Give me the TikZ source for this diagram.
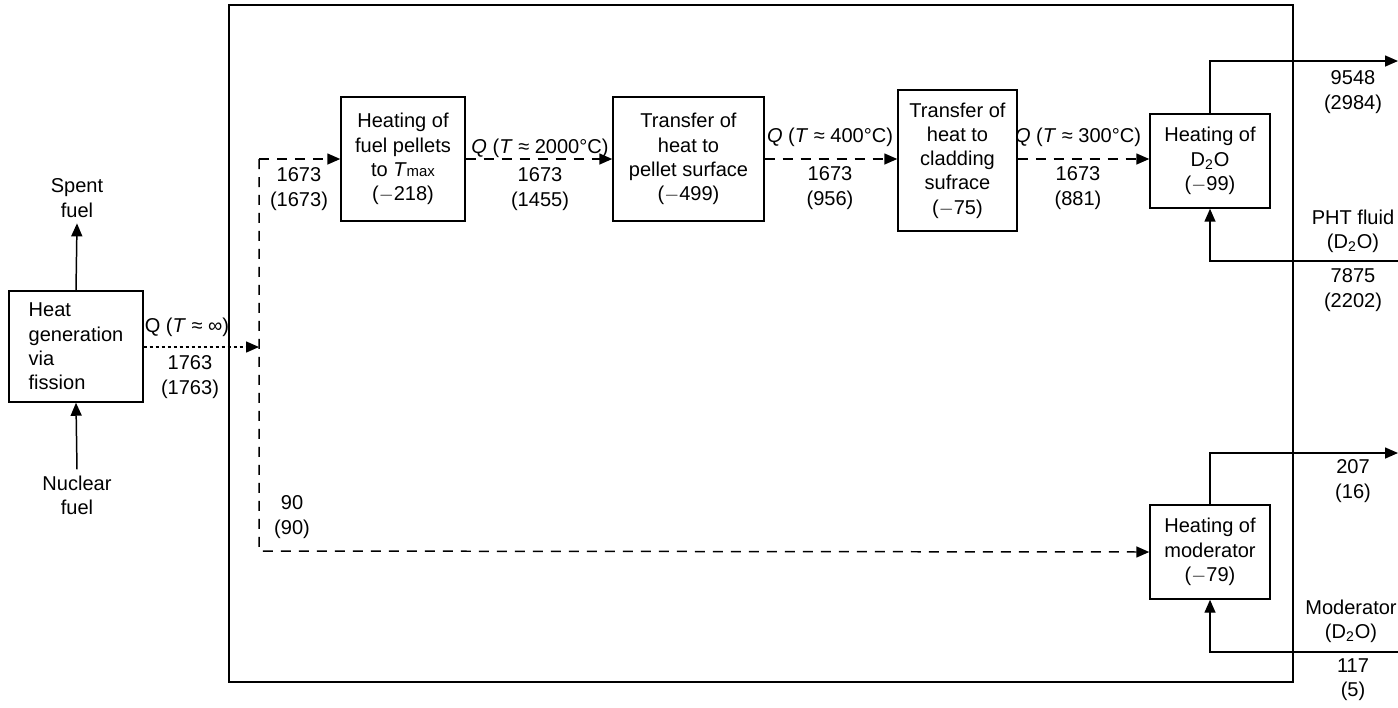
\documentclass[tikz,border=0pt]{standalone}
\usepackage{fontspec}
\setmainfont{Liberation Sans}
\usepackage{tikz}
\usetikzlibrary{arrows.meta, positioning}
\newcommand{\dtwo}{D\textsubscript{2}O}
\newcommand{\tmax}{\textit{T}{\fontsize{8.5}{10}\selectfont max}}

\begin{document}
\begin{tikzpicture}[x=0.02cm, y=-0.02cm,
    font=\fontsize{11.4}{13.8}\selectfont,
    stage/.style={rectangle, draw, line width=0.85pt, align=center, inner sep=2pt},
    lbl/.style={align=center, inner sep=0pt},
    arr/.style={-{Triangle[length=2.6mm, width=2.2mm]}, line width=0.85pt},
    flow/.style={arr, dash pattern=on 2mm off 1.6mm},
    heat/.style={arr, dash pattern=on 0.6mm off 0.6mm}
]
\useasboundingbox (0,0) rectangle (1398,707);
\draw[line width=0.85pt] (229,5) rectangle (1293,682);

\node[stage, align=left, minimum width=2.68cm, minimum height=2.22cm] (fission) at (76,346.5) {Heat\\generation\\via\\fission};
\node[lbl, inner sep=3.3pt] (spent) at (77,198) {Spent\\fuel};
\node[lbl, inner sep=3.3pt] (nuclear) at (77,495) {Nuclear\\fuel};

\node[stage, minimum width=2.48cm, minimum height=2.48cm] (pellet) at (403,159) {Heating of\\fuel pellets\\to \tmax\\($-$218)};
\node[stage, minimum width=3.02cm, minimum height=2.48cm] (surface) at (688.5,159) {Transfer of\\heat to\\pellet surface\\($-$499)};
\node[stage, minimum width=2.38cm, minimum height=2.82cm] (clad) at (957.5,160.5) {Transfer of\\heat to\\cladding\\sufrace\\($-$75)};
\node[stage, minimum width=2.4cm, minimum height=1.88cm] (coolant) at (1210,161) {Heating of\\\dtwo\\($-$99)};
\node[stage, minimum width=2.4cm, minimum height=1.88cm] (moder) at (1210,552) {Heating of\\moderator\\($-$79)};

\coordinate (jtop) at (259,159);
\coordinate (jmid) at (259,347);
\coordinate (jbot) at (259,551);
\coordinate (phtout) at (1398,61);
\coordinate (phtin) at (1398,261);
\coordinate (modout) at (1398,453);
\coordinate (modin) at (1398,652);

% fission source
\draw[arr] (fission.north) -- (spent.south);
\draw[arr] (nuclear.north) -- (fission.south);
\draw[heat] (fission.east |- jmid) -- (jmid);
\node[lbl] (qinf) at (187,327) {Q (\textit{T} ≈ ∞)};
\node[lbl] (n1763) at (190,377) {1763\\(1763)};

% fuel channel chain
\draw[flow] (jtop) -- (jbot) -- (moder.west);
\draw[flow] (jtop) -- (pellet.west);
\draw[flow] (pellet.east) -- (surface.west);
\draw[flow] (surface.east) -- (clad.west |- surface.east);
\draw[flow] (clad.east |- surface.east) -- (coolant.west |- surface.east);
\node[lbl] (n1673) at (299,189) {1673\\(1673)};
\node[lbl] (n90) at (292,517) {90\\(90)};
\node[lbl] (q2000) at (540,148) {\textit{Q} (\textit{T} ≈ 2000°C)};
\node[lbl] (n1455) at (540,189) {1673\\(1455)};
\node[lbl] (q400) at (830,137) {\textit{Q} (\textit{T} ≈ 400°C)};
\node[lbl] (n956) at (830,188) {1673\\(956)};
\node[lbl] (q300) at (1078,137) {\textit{Q} (\textit{T} ≈ 300°C)};
\node[lbl] (n881) at (1078,188) {1673\\(881)};

% heat transport and moderator loops
\draw[arr] (coolant.north) |- (phtout);
\draw[arr] (phtin) -| (coolant.south);
\draw[arr] (moder.north) |- (modout);
\draw[arr] (modin) -| (moder.south);
\node[lbl] (n9548) at (1353,92) {9548\\(2984)};
\node[lbl] (pht) at (1353,231) {PHT fluid\\(\dtwo)};
\node[lbl] (n7875) at (1353,290) {7875\\(2202)};
\node[lbl] (n207) at (1353,481) {207\\(16)};
\node[lbl] (modlbl) at (1351,621) {Moderator\\(\dtwo)};
\node[lbl] (n117) at (1353,680) {117\\(5)};
\end{tikzpicture}
\end{document}
